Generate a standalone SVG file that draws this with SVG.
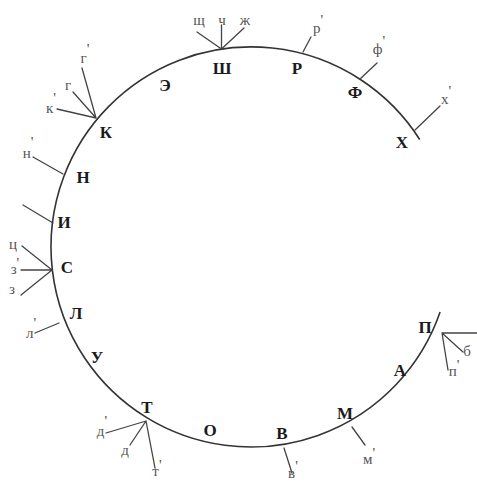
<svg xmlns="http://www.w3.org/2000/svg" width="477" height="482" viewBox="0 0 477 482">
<style>
.cap{font-family:"Liberation Serif","DejaVu Serif",serif;font-weight:bold;font-size:17px;fill:#1a1a1a;text-anchor:middle}
.lo{font-family:"Liberation Serif","DejaVu Serif",serif;font-size:15px;fill:#555;text-anchor:middle}
.ln{stroke:#444;stroke-width:1.3;fill:none;stroke-linecap:round}
.arc{stroke:#333;stroke-width:1.6;fill:none}
</style>
<rect width="477" height="482" fill="#fff"/>
<g id="circle"><path class="arc" d="M 419.7 139.5 A 200 200 0 1 0 440.1 312.1"/></g>
<g id="connectors">
<path class="ln" d="M221.5 49 L197 32 M221.5 49 L221.5 25 M221.5 49 L244 28"/>
<path class="ln" d="M303 52 L311 37"/>
<path class="ln" d="M360 79 L377 63"/>
<path class="ln" d="M415 130 L440 106"/>
<path class="ln" d="M96 118 L82 68 M96 118 L73 92 M96 118 L57 109"/>
<path class="ln" d="M63 174 L33 157"/>
<path class="ln" d="M53 223 L23 205"/>
<path class="ln" d="M52 270 L22 246 M52 270 L21 270 M52 270 L21 295"/>
<path class="ln" d="M59 323 L35 333"/>
<path class="ln" d="M146 421 L106 433 M146 421 L130 445 M146 421 L155 468"/>
<path class="ln" d="M284 448 L292 473"/>
<path class="ln" d="M352 427 L365 445"/>
<path class="ln" d="M442 333 L477 333 M442 333 L463 352 M442 333 L448 370"/>
</g>
<g id="node-sh"><text class="cap" x="222" y="74">Ш</text>
<text class="lo" x="199" y="25">щ</text><text class="lo" x="222" y="25">ч</text><text class="lo" x="245" y="25">ж</text></g>
<g id="node-r"><text class="cap" x="297" y="74">Р</text><text class="lo" x="318" y="33">р<tspan dy="-8">'</tspan></text></g>
<g id="node-f"><text class="cap" x="355" y="98">Ф</text><text class="lo" x="379" y="54">ф<tspan dy="-8">'</tspan></text></g>
<g id="node-kh"><text class="cap" x="402" y="148">Х</text><text class="lo" x="446" y="104">х<tspan dy="-8">'</tspan></text></g>
<g id="node-e"><text class="cap" x="165" y="91">Э</text></g>
<g id="node-k"><text class="cap" x="106" y="138">К</text>
<text class="lo" x="85" y="63">г<tspan dy="-9">'</tspan></text>
<text class="lo" x="68" y="90">г</text>
<text class="lo" x="51" y="113">к<tspan dy="-10">'</tspan></text></g>
<g id="node-n"><text class="cap" x="83" y="183">Н</text><text class="lo" x="28" y="158">н<tspan dy="-11">'</tspan></text></g>
<g id="node-i"><text class="cap" x="64" y="228">И</text></g>
<g id="node-s"><text class="cap" x="67" y="273">С</text>
<text class="lo" x="13" y="249">ц</text>
<text class="lo" x="15" y="274">з<tspan dy="-6">'</tspan></text>
<text class="lo" x="12" y="294">з</text></g>
<g id="node-l"><text class="cap" x="76" y="319">Л</text><text class="lo" x="31" y="338">л<tspan dy="-10">'</tspan></text></g>
<g id="node-u"><text class="cap" x="97" y="363">У</text></g>
<g id="node-t"><text class="cap" x="147" y="413">Т</text>
<text class="lo" x="102" y="436">д<tspan dy="-10">'</tspan></text>
<text class="lo" x="125" y="455">д</text>
<text class="lo" x="157" y="476">т<tspan dy="-6">'</tspan></text></g>
<g id="node-o"><text class="cap" x="210" y="436">О</text></g>
<g id="node-v"><text class="cap" x="282" y="439">В</text><text class="lo" x="293" y="478">в<tspan dy="-7">'</tspan></text></g>
<g id="node-m"><text class="cap" x="345" y="419">М</text><text class="lo" x="369" y="464">м<tspan dy="-6">'</tspan></text></g>
<g id="node-a"><text class="cap" x="400" y="376">А</text></g>
<g id="node-p"><text class="cap" x="425" y="333">П</text>
<text class="lo" x="467" y="356">б</text>
<text class="lo" x="454" y="376">п<tspan dy="-6">'</tspan></text></g>
</svg>
